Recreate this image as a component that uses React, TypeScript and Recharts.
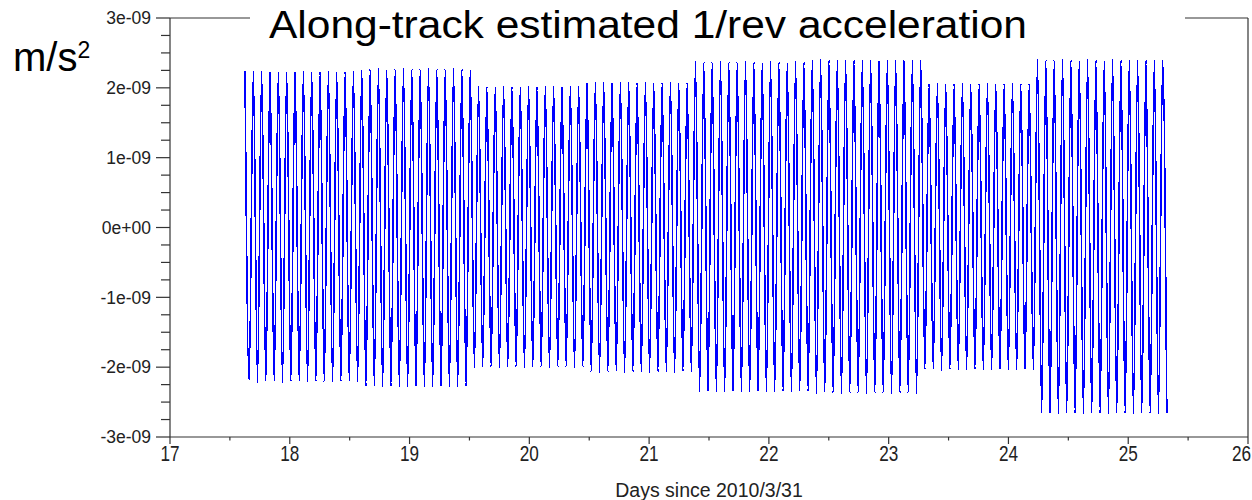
import { LineChart, Line, XAxis, YAxis, ReferenceLine } from 'recharts';

// Along-track 1/rev acceleration, values in units of 1e-9 m/s^2
// one peak and one trough per orbital revolution
const FIRST_PEAK_DAY = 17.626;
const REV_DAYS = 0.06965;

const PEAKS = [
  // arc 1
  2.24, 2.24, 2.23, 2.23, 2.23, 2.23, 2.23, 2.23, 2.23, 2.23, 2.23, 2.23, 2.23, 2.23,
  2.27, 2.27, 2.27, 2.27, 2.27, 2.27, 2.27, 2.27, 2.27, 2.27, 2.27, 2.27, 2.27, 2.27,
  // arc 2
  2.02, 2.02, 2.02, 2.02, 2.02, 2.02, 2.02, 2.02, 2.02, 2.02, 2.02, 2.02, 2.02,
  2.08, 2.08, 2.08, 2.08, 2.08, 2.08, 2.08, 2.08, 2.08, 2.08, 2.08, 2.08, 2.08,
  // arc 3
  2.37, 2.37, 2.37, 2.37, 2.37, 2.37, 2.37, 2.37, 2.37, 2.37, 2.37, 2.37, 2.37, 2.37,
  2.4, 2.4, 2.4, 2.4, 2.4, 2.4, 2.4, 2.4, 2.4, 2.4, 2.4, 2.4, 2.4, 2.4,
  // arc 4
  2.06, 2.06, 2.06, 2.06, 2.06, 2.06, 2.06, 2.06, 2.06, 2.06, 2.06, 2.06, 2.06,
  // arc 5
  2.4, 2.4, 2.4, 2.4, 2.4, 2.4, 2.4, 2.4, 2.4, 2.4, 2.4, 2.4, 2.4, 2.4, 2.4, 2.4,
];

const TROUGHS = [
  // arc 1
  -2.21, -2.21, -2.21, -2.21, -2.21, -2.21, -2.21, -2.21, -2.21, -2.21, -2.21, -2.21, -2.21, -2.21,
  -2.28, -2.28, -2.28, -2.28, -2.28, -2.28, -2.28, -2.28, -2.28, -2.28, -2.28, -2.28, -2.28,
  // arc 2
  -2.0, -2.0, -2.0, -2.0, -2.0, -2.0, -2.0, -2.0, -2.0, -2.0, -2.0, -2.0, -2.0, -2.0,
  -2.07, -2.07, -2.07, -2.07, -2.07, -2.07, -2.07, -2.07, -2.07, -2.07, -2.07, -2.07, -2.07,
  // arc 3
  -2.35, -2.35, -2.35, -2.35, -2.35, -2.35, -2.35, -2.35, -2.35, -2.35, -2.35, -2.35, -2.35, -2.35,
  -2.37, -2.37, -2.37, -2.37, -2.37, -2.37, -2.37, -2.37, -2.37, -2.37, -2.37, -2.37, -2.37,
  // arc 4
  -2.04, -2.04, -2.04, -2.04, -2.04, -2.04, -2.04, -2.04, -2.04, -2.04, -2.04, -2.04, -2.04, -2.04,
  // arc 5
  -2.66, -2.66, -2.66, -2.66, -2.66, -2.66, -2.66, -2.66, -2.66, -2.66, -2.66, -2.66, -2.66, -2.66, -2.66, -2.66,
];

const X_TICKS = [17, 17.5, 18, 18.5, 19, 19.5, 20, 20.5, 21, 21.5, 22, 22.5, 23, 23.5, 24, 24.5, 25, 25.5, 26];
const Y_TICKS = [
  -3, -2.75, -2.5, -2.25, -2, -1.75, -1.5, -1.25, -1, -0.75, -0.5, -0.25, 0,
  0.25, 0.5, 0.75, 1, 1.25, 1.5, 1.75, 2, 2.25, 2.5, 2.75, 3,
];
const Y_LABELS: Record<string, string> = {
  '-3': '-3e-09', '-2': '-2e-09', '-1': '-1e-09', '0': '0e+00', '1': '1e-09', '2': '2e-09', '3': '3e-09',
};

const data: { day: number; acc: number }[] = [];
PEAKS.forEach((p, i) => {
  data.push({ day: FIRST_PEAK_DAY + i * REV_DAYS, acc: p });
  data.push({ day: FIRST_PEAK_DAY + (i + 0.5) * REV_DAYS, acc: TROUGHS[i] });
});

const W = 1252;
const H = 500;
const PLOT_LEFT = 170;
const PLOT_BOTTOM = 437;
const sans = '"Liberation Sans", Arial, sans-serif';

const YTick = (props: any) => {
  const { y, payload } = props;
  const label = Y_LABELS[String(payload.value)];
  const len = label ? 14 : 9;
  return (
    <g>
      <line x1={PLOT_LEFT - len} x2={PLOT_LEFT} y1={y} y2={y} stroke="#333" strokeWidth={1.2} />
      {label && (
        <text x={PLOT_LEFT - 19} y={y} dy="0.36em" textAnchor="end" fontSize={17.5} fontFamily={sans} fill="#222">
          {label}
        </text>
      )}
    </g>
  );
};

const XTick = (props: any) => {
  const { x, payload } = props;
  const major = Number.isInteger(payload.value);
  // the last label sits on the right edge; keep it inside the picture
  const last = payload.value === X_TICKS[X_TICKS.length - 1];
  const lx = last ? W - 1 : x;
  return (
    <g>
      <line x1={x} x2={x} y1={PLOT_BOTTOM} y2={PLOT_BOTTOM + (major ? 7 : 3.5)} stroke="#333" strokeWidth={1.2} />
      {major && (
        <g transform={`translate(${lx},461) scale(0.78,1)`}>
          <text x={0} y={0} textAnchor={last ? 'end' : 'middle'} fontSize={22} fontFamily={sans} fill="#222">
            {payload.value}
          </text>
        </g>
      )}
    </g>
  );
};

export default function App() {
  return (
    <div style={{ position: 'relative', width: W, height: H, background: '#fff' }}>
      <style>{'body{margin:0} .acc-line .recharts-curve{shape-rendering:crispEdges}'}</style>
      <LineChart width={W} height={H} data={data} margin={{ top: 18, right: 4, left: 0, bottom: 0 }}>
        <XAxis
          type="number"
          dataKey="day"
          domain={[17, 26]}
          ticks={X_TICKS}
          interval={0}
          height={63}
          tickLine={false}
          axisLine={{ stroke: '#333', strokeWidth: 1.2 }}
          tick={<XTick />}
          allowDataOverflow
        />
        <YAxis
          type="number"
          domain={[-3, 3]}
          ticks={Y_TICKS}
          interval={0}
          width={170}
          tickLine={false}
          axisLine={{ stroke: '#333', strokeWidth: 1.2 }}
          tick={<YTick />}
          allowDataOverflow
        />
        <ReferenceLine y={3} stroke="#333" strokeWidth={1.2} />
        <ReferenceLine x={26} stroke="#333" strokeWidth={1.2} />
        <Line
          className="acc-line"
          type="monotone"
          dataKey="acc"
          stroke="#0000ff"
          strokeWidth={1.6}
          dot={false}
          isAnimationActive={false}
        />
      </LineChart>
      <svg width={W} height={H} style={{ position: 'absolute', left: 0, top: 0, pointerEvents: 'none' }}>
        <rect x={250} y={0} width={935} height={36} fill="#fff" />
        <text x={269} y={37.5} fontSize={38} fontFamily={sans} fill="#000" textLength={758} lengthAdjust="spacingAndGlyphs">
          Along-track estimated 1/rev acceleration
        </text>
        <text x={13} y={71} fontSize={40} fontFamily={sans} fill="#000">
          m/s<tspan dy={-13} fontSize={23}>2</tspan>
        </text>
        <text x={709} y={497} textAnchor="middle" fontSize={19.5} fontFamily={sans} fill="#222">
          Days since 2010/3/31
        </text>
      </svg>
    </div>
  );
}
